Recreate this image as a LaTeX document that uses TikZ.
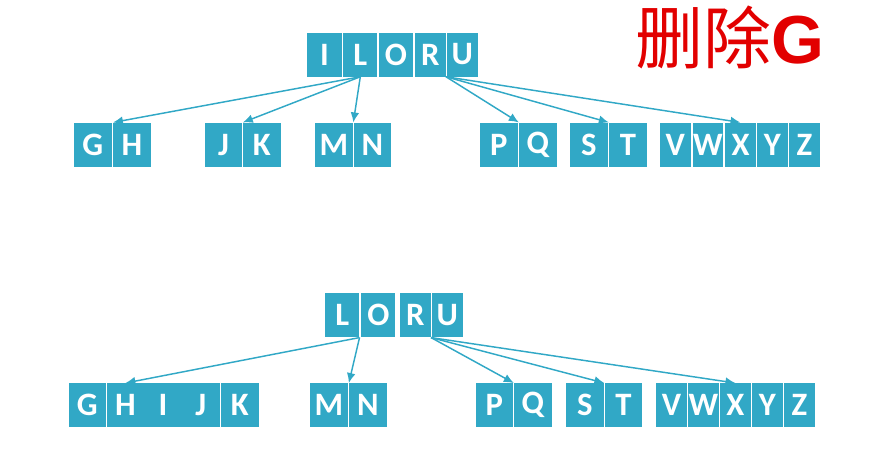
\documentclass[tikz,border=0pt]{standalone}
\usepackage{fontspec}
\setmainfont{Carlito}
\newfontfamily\cjk{Noto Sans CJK SC}
\newfontfamily\headsans{Liberation Sans}
\usetikzlibrary{arrows.meta,shapes}

\definecolor{keyblue}{RGB}{49,168,198}
\definecolor{titlered}{RGB}{226,0,0}

\tikzset{
  keybox/.style={fill=keyblue,text=white,inner sep=0pt,minimum height=33pt,
    font=\fontsize{24.5}{25}\selectfont\bfseries},
  wide/.style={minimum width=28.2pt},
  mid/.style={minimum width=25.6pt},
  thin/.style={minimum width=23pt},
  link/.style={->,draw=keyblue,line width=1.1pt},
}

\begin{document}
\begin{tikzpicture}[x=0.75pt,y=-0.75pt,>={Latex[length=7.5pt,width=6.5pt]}]
\useasboundingbox (0,0) rectangle (871,461);

% Title
\node[anchor=base west,text=titlered,inner sep=0pt,font=\fontsize{51}{51}\selectfont] (title)
  at (635,63) {\cjk 删除\headsans\bfseries G};

% Node: top root
\node[keybox,mid]  (tI) at (324.5,54.5) {I};
\node[keybox,mid]  (tL) at (360.3,54.5) {L};
\node[keybox,mid]  (tO) at (395.9,54.5) {O};
\node[keybox,thin] (tR) at (430.4,54.5) {R};
\node[keybox,thin] (tU) at (462.4,54.5) {U};

% Node: top leaves
\node[keybox,wide] (tG) at (92.9,144.7) {G};
\node[keybox,wide] (tH) at (132,144.7) {H};
\node[keybox,wide] (tJ) at (223.5,144.7) {J};
\node[keybox,wide] (tK) at (261.9,144.7) {K};
\node[keybox,wide] (tM) at (333.9,144.7) {M};
\node[keybox,wide] (tN) at (372.4,144.7) {N};
\node[keybox,wide] (tP) at (498.9,144.7) {P};
\node[keybox,wide] (tQ) at (537.9,144.7) {Q};
\node[keybox,wide] (tS) at (588.9,144.7) {S};
\node[keybox,wide] (tT) at (627.9,144.7) {T};
\node[keybox,thin] (tV) at (675.4,144.7) {V};
\node[keybox,thin] (tW) at (708,144.7) {W};
\node[keybox,thin] (tX) at (740.5,144.7) {X};
\node[keybox,thin] (tY) at (772.4,144.7) {Y};
\node[keybox,thin] (tZ) at (804.5,144.7) {Z};

% Edge: top root -> leaves
\draw[link] (tL.south) -- (tH.north west);
\draw[link] (tL.south) -- (tK.north west);
\draw[link] (tL.south) -- (tN.north west);
\draw[link] (tR.south east) -- (tQ.north west);
\draw[link] (tR.south east) -- (tT.north west);
\draw[link] (tR.south east) -- (tX.north);

% Node: bottom root
\node[keybox,mid]  (bL) at (342.2,315.3) {L};
\node[keybox,mid]  (bO) at (378.4,315.3) {O};
\node[keybox,thin] (bR) at (415.4,315.3) {R};
\node[keybox,thin] (bU) at (447.4,315.3) {U};

% Node: bottom leaves
\node[keybox,wide] (bG) at (87.4,405.3) {G};
\node[keybox,wide] (bH) at (125.4,405.3) {H};
\node[keybox,wide] (bI) at (162.9,405.3) {I};
\node[keybox,wide] (bJ) at (200.9,405.3) {J};
\node[keybox,wide] (bK) at (239.9,405.3) {K};
\node[keybox,wide] (bM) at (328.9,405.3) {M};
\node[keybox,wide] (bN) at (367.9,405.3) {N};
\node[keybox,wide] (bP) at (494.4,405.3) {P};
\node[keybox,wide] (bQ) at (532.9,405.3) {Q};
\node[keybox,wide] (bS) at (584.9,405.3) {S};
\node[keybox,wide] (bT) at (623.4,405.3) {T};
\node[keybox,thin] (bV) at (671.4,405.3) {V};
\node[keybox,thin] (bW) at (703.5,405.3) {W};
\node[keybox,thin] (bX) at (735.4,405.3) {X};
\node[keybox,thin] (bY) at (767.4,405.3) {Y};
\node[keybox,thin] (bZ) at (799.5,405.3) {Z};

% Edge: bottom root -> leaves
\draw[link] (bL.south east) -- (bH.north);
\draw[link] (bL.south east) -- (bN.north west);
\draw[link] (bR.south east) -- (bQ.north west);
\draw[link] (bR.south east) -- (bT.north west);
\draw[link] (bR.south east) -- (bX.north);
%
\end{tikzpicture}
\end{document}
